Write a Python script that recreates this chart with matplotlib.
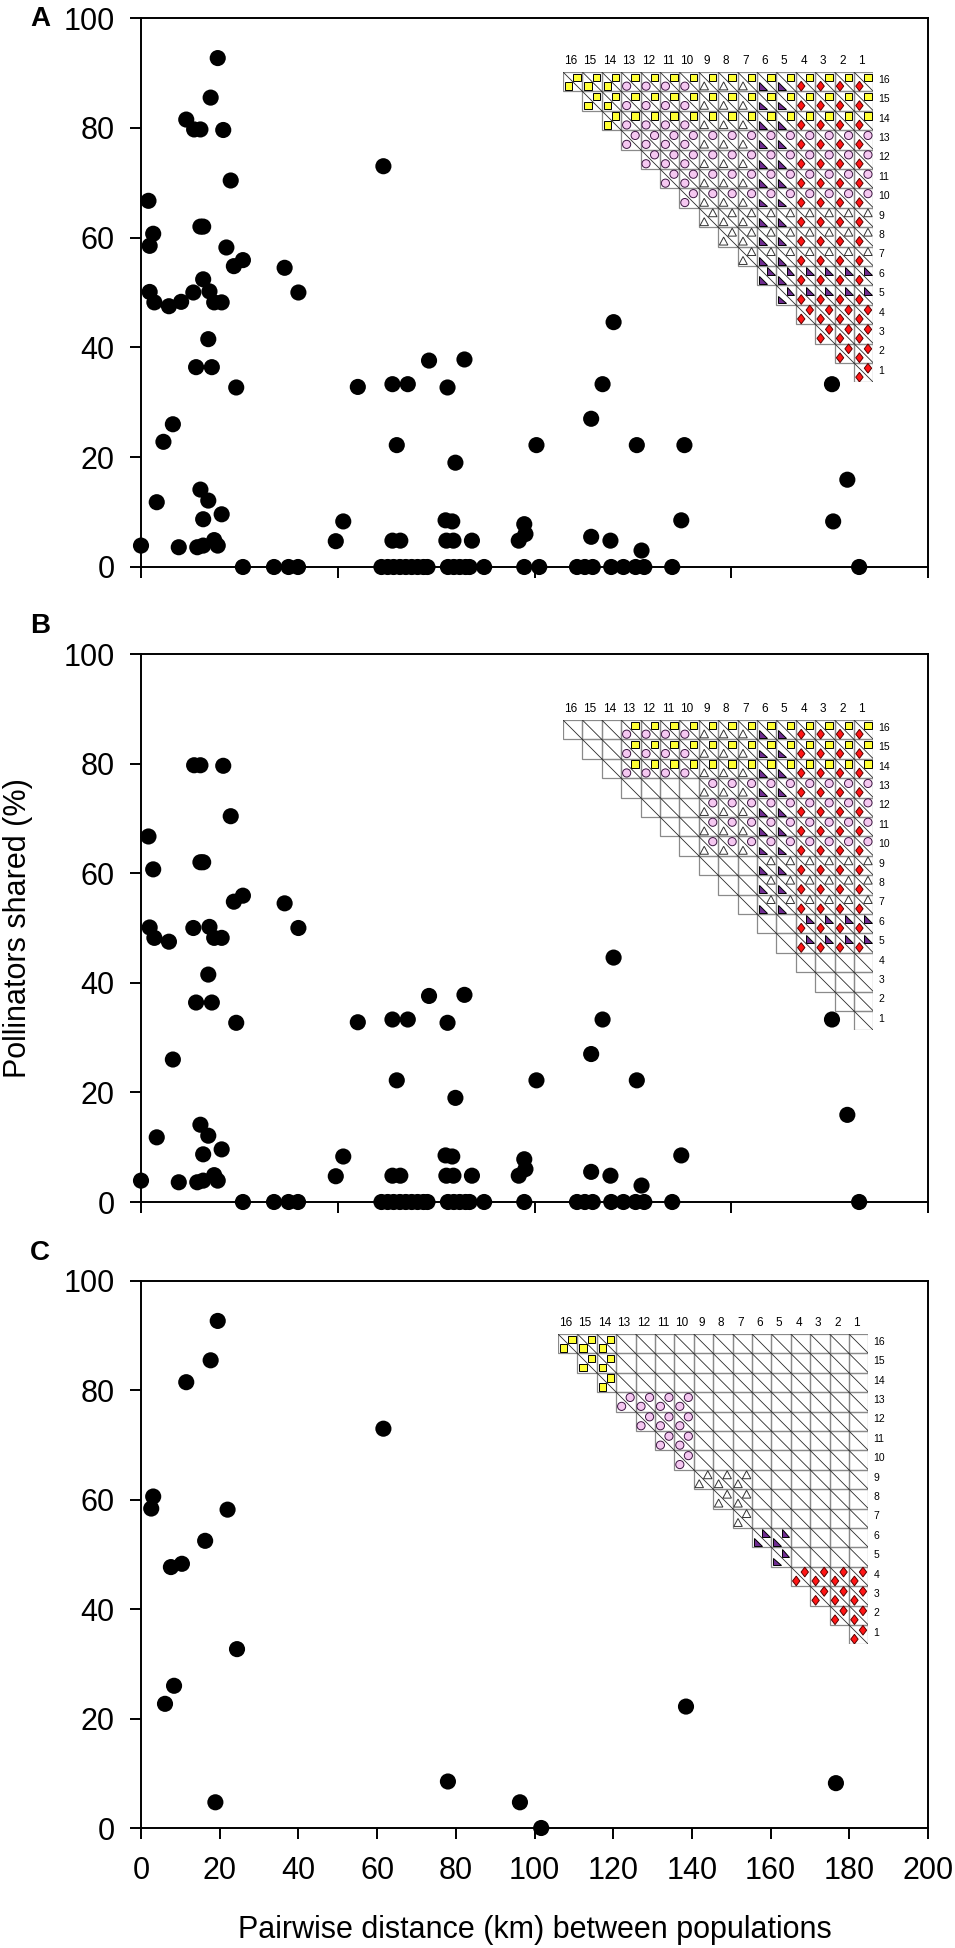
import matplotlib
matplotlib.use("Agg")
import matplotlib.pyplot as plt
from matplotlib.patches import Rectangle, Polygon, Circle

plt.rcParams['font.family'] = ['Liberation Sans', 'DejaVu Sans']

W, H, DPI = 955, 1948, 100

# ---------------- data ----------------
# Panel A: all population pairs (distance km, % pollinators shared)
a_dist = [0.0, 1.9, 3.1, 2.2, 2.2, 3.4, 4.0, 5.7, 8.1, 7.1, 9.6, 10.2, 11.5, 13.3, 13.5,
          15.1, 14.0, 15.1, 15.1, 15.8, 14.3, 15.8, 15.8, 15.8, 17.1, 17.1, 17.4, 17.7,
          18.0, 18.6, 18.6, 19.5, 19.5, 20.5, 20.9, 20.5, 21.7, 22.8, 23.6, 24.2, 25.9,
          25.9, 33.8, 36.5, 37.5, 39.9, 40.0, 49.5, 51.4, 55.1, 61.6, 61.1, 62.7, 63.9,
          63.9, 65.0, 65.9, 64.2, 67.8, 65.8, 67.3, 68.8, 70.3, 71.8, 72.8, 73.2, 77.9,
          77.4, 79.1, 77.6, 79.4, 79.9, 82.2, 84.1, 78.0, 79.5, 81.0, 82.5, 83.5, 87.2,
          96.0, 97.4, 97.7, 97.4, 100.5, 101.2, 110.8, 112.8, 114.4, 114.4, 114.8, 117.3,
          119.3, 119.5, 120.1, 122.6, 126.0, 127.2, 125.7, 127.9, 135.0, 137.3, 138.1,
          175.6, 175.9, 179.5, 182.5]
a_shared = [3.9, 66.7, 60.7, 58.5, 50.1, 48.2, 11.8, 22.8, 26.0, 47.5, 3.6, 48.3, 81.5, 50.0, 79.7,
            79.7, 36.4, 14.1, 62.0, 62.0, 3.6, 3.9, 8.7, 52.4, 41.5, 12.1, 50.2, 85.5,
            36.4, 48.2, 4.9, 3.9, 92.7, 48.2, 79.6, 9.6, 58.2, 70.4, 54.8, 32.7, 55.9,
            0.0, 0.0, 54.5, 0.0, 0.0, 50.0, 4.7, 8.3, 32.8, 73.0, 0.0, 0.0, 33.3,
            4.8, 22.2, 4.8, 0.0, 33.3, 0.0, 0.0, 0.0, 0.0, 0.0, 0.0, 37.6, 32.7,
            8.5, 8.3, 4.8, 4.8, 19.0, 37.8, 4.8, 0.0, 0.0, 0.0, 0.0, 0.0, 0.0,
            4.8, 7.8, 6.0, 0.0, 22.2, 0.0, 0.0, 0.0, 27.0, 5.5, 0.0, 33.3,
            4.8, 0.0, 44.6, 0.0, 22.2, 3.0, 0.0, 0.0, 0.0, 8.5, 22.2,
            33.3, 8.3, 15.9, 0.0]

# Panel B: pairs between groups
b_dist = [0.0, 1.9, 3.1, 2.2, 3.4, 4.0, 8.1, 7.1, 9.6, 13.3, 13.5, 15.1, 14.0, 15.1, 15.1,
          15.8, 14.3, 15.8, 15.8, 17.1, 17.1, 17.4, 18.0, 18.6, 18.6, 19.5, 20.5, 20.9,
          20.5, 22.8, 23.6, 24.2, 25.9, 25.9, 33.8, 36.5, 37.5, 39.9, 40.0, 49.5, 51.4,
          55.1, 61.1, 62.7, 63.9, 63.9, 65.0, 65.9, 64.2, 67.8, 65.8, 67.3, 68.8, 70.3,
          71.8, 72.8, 73.2, 77.9, 77.4, 79.1, 77.6, 79.4, 79.9, 82.2, 84.1, 78.0, 79.5,
          81.0, 82.5, 83.5, 87.2, 96.0, 97.4, 97.7, 97.4, 100.5, 110.8, 112.8, 114.4,
          114.4, 114.8, 117.3, 119.3, 119.5, 120.1, 122.6, 126.0, 127.2, 125.7, 127.9,
          135.0, 137.3, 175.6, 179.5, 182.5]
b_shared = [3.9, 66.7, 60.7, 50.1, 48.2, 11.8, 26.0, 47.5, 3.6, 50.0, 79.7, 79.7, 36.4, 14.1, 62.0,
            62.0, 3.6, 3.9, 8.7, 41.5, 12.1, 50.2, 36.4, 48.2, 4.9, 3.9, 48.2, 79.6,
            9.6, 70.4, 54.8, 32.7, 55.9, 0.0, 0.0, 54.5, 0.0, 0.0, 50.0, 4.7, 8.3,
            32.8, 0.0, 0.0, 33.3, 4.8, 22.2, 4.8, 0.0, 33.3, 0.0, 0.0, 0.0, 0.0,
            0.0, 0.0, 37.6, 32.7, 8.5, 8.3, 4.8, 4.8, 19.0, 37.8, 4.8, 0.0, 0.0,
            0.0, 0.0, 0.0, 0.0, 4.8, 7.8, 6.0, 0.0, 22.2, 0.0, 0.0, 27.0,
            5.5, 0.0, 33.3, 4.8, 0.0, 44.6, 0.0, 22.2, 3.0, 0.0, 0.0,
            0.0, 8.5, 33.3, 15.9, 0.0]

# Panel C: pairs within groups
c_dist = [2.6, 3.1, 6.1, 7.6, 8.4, 10.4, 11.5, 16.3, 17.7, 18.9, 19.5, 22.0, 24.4,
          61.6, 78.0, 96.3, 101.7, 138.5, 176.6]
c_shared = [58.4, 60.6, 22.7, 47.7, 26.0, 48.3, 81.5, 52.5, 85.5, 4.7, 92.7, 58.2, 32.7,
            73.0, 8.5, 4.7, 0.0, 22.2, 8.2]

# Inset matrix: populations and their pollinator group (symbol)
populations = list(range(16, 0, -1))          # order of columns (left->right) and rows (top->bottom)
pop_group = {1: 'diamond', 2: 'diamond', 3: 'diamond', 4: 'diamond',
             5: 'halftri', 6: 'halftri',
             7: 'triangle', 8: 'triangle', 9: 'triangle',
             10: 'circle', 11: 'circle', 12: 'circle', 13: 'circle',
             14: 'square', 15: 'square', 16: 'square'}

x_ticks = [0, 20, 40, 60, 80, 100, 120, 140, 160, 180, 200]
x_ticks_top = [0, 50, 100, 150, 200]
y_ticks = [0, 20, 40, 60, 80, 100]

panels = [
    dict(letter='A', dist=a_dist, shared=a_shared, mode='all', top=18, bottom=567,
         inset=(563, 72), letter_y=19, xt=x_ticks_top, labels=False),
    dict(letter='B', dist=b_dist, shared=b_shared, mode='between', top=654, bottom=1202,
         inset=(563, 720), letter_y=626, xt=x_ticks_top, labels=False),
    dict(letter='C', dist=c_dist, shared=c_shared, mode='within', top=1281, bottom=1828,
         inset=(558, 1334), letter_y=1253, xt=x_ticks, labels=True),
]

AX_L, AX_R = 141, 928
CELL = 19.4
FS = 22


def px_rect(left, top, width, height):
    return [left / W, 1 - (top + height) / H, width / W, height / H]


def draw_symbol(ax, kind, cx, cy):
    lw = 0.7
    if kind == 'square':
        s = 0.38
        ax.add_patch(Rectangle((cx - s / 2, cy - s / 2), s, s, fc='#FFFF33', ec='black', lw=lw, zorder=3))
    elif kind == 'circle':
        ax.add_patch(Circle((cx, cy), 0.21, fc='#F5C8F1', ec='#3b1440', lw=lw, zorder=3))
    elif kind == 'triangle':
        ax.add_patch(Polygon([(cx - 0.22, cy + 0.19), (cx + 0.22, cy + 0.19), (cx, cy - 0.22)],
                             closed=True, fc='white', ec='#333333', lw=lw, zorder=3))
    elif kind == 'halftri':
        ax.add_patch(Polygon([(cx - 0.19, cy - 0.2), (cx - 0.19, cy + 0.2), (cx + 0.21, cy + 0.2)],
                             closed=True, fc='#6F2C91', ec='black', lw=lw, zorder=3))
    elif kind == 'diamond':
        ax.add_patch(Polygon([(cx, cy - 0.25), (cx + 0.19, cy), (cx, cy + 0.25), (cx - 0.19, cy)],
                             closed=True, fc='#FF1515', ec='#5a0000', lw=lw, zorder=3))


def draw_inset(fig, left, top, mode):
    n = len(populations)
    size = CELL * n
    ax = fig.add_axes(px_rect(left, top, size, size))
    ax.set_xlim(0, n)
    ax.set_ylim(n, 0)
    ax.axis('off')
    for i, r in enumerate(populations):
        for j, c in enumerate(populations):
            if j < i:
                continue
            ax.add_patch(Rectangle((j, i), 1, 1, fill=False, ec='#8a8a8a', lw=0.9, zorder=1))
            ax.plot([j, j + 1], [i, i + 1], color='#2a2a2a', lw=0.6, zorder=2)
            same = pop_group[r] == pop_group[c]
            show = (mode == 'all') or (mode == 'between' and not same) or (mode == 'within' and same)
            if show:
                draw_symbol(ax, pop_group[r], j + 0.72, i + 0.27)
                draw_symbol(ax, pop_group[c], j + 0.28, i + 0.73)
    for j, c in enumerate(populations):
        ax.text(j + 0.4, -0.25, str(c), ha='center', va='bottom', fontsize=8.5, clip_on=False)
    for i, r in enumerate(populations):
        ax.text(n + 0.25, i + 0.4, str(r), ha='left', va='center', fontsize=7.5, clip_on=False)


fig = plt.figure(figsize=(W / DPI, H / DPI), dpi=DPI)

for p in panels:
    ax = fig.add_axes(px_rect(AX_L, p['top'], AX_R - AX_L, p['bottom'] - p['top']))
    ax.scatter(p['dist'], p['shared'], s=135, color='black', edgecolors='none',
               clip_on=False, zorder=5)
    ax.set_xlim(0, 200)
    ax.set_ylim(0, 100)
    ax.set_yticks(y_ticks)
    ax.set_xticks(p['xt'])
    ax.tick_params(axis='both', direction='out', length=8, width=1.4, labelsize=FS)
    ax.tick_params(axis='y', pad=11)
    if not p['labels']:
        ax.tick_params(axis='x', labelbottom=False)
    else:
        ax.tick_params(axis='x', pad=12)
    for sp in ax.spines.values():
        sp.set_linewidth(1.4)
    fig.text(40 / W, 1 - p['letter_y'] / H, p['letter'], fontsize=20, fontweight='bold',
             ha='center', va='center')
    draw_inset(fig, p['inset'][0], p['inset'][1], p['mode'])

fig.text(18 / W, 1 - 928 / H, 'Pollinators shared (%)', rotation=90, fontsize=FS,
         ha='center', va='center')
fig.text((AX_L + AX_R) / 2 / W, 1 - 1930 / H, 'Pairwise distance (km) between populations',
         fontsize=FS, ha='center', va='center')

fig.savefig('out.png', dpi=DPI)
